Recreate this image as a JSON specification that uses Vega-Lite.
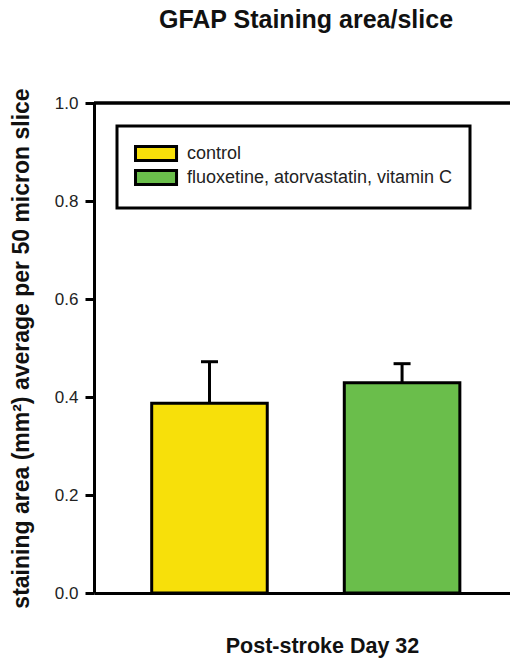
{
  "$schema": "https://vega.github.io/schema/vega-lite/v6.json",
  "width": 416,
  "height": 490,
  "autosize": {"type": "none"},
  "padding": {"left": 94, "top": 103, "right": 0, "bottom": 68},
  "title": {
    "text": "GFAP Staining area/slice",
    "fontSize": 25,
    "fontWeight": "bold",
    "color": "#111111",
    "anchor": "middle",
    "dx": 4,
    "offset": 55
  },
  "data": {
    "values": [
      {"group": "control", "mean": 0.387, "upper": 0.472},
      {"group": "fluoxetine, atorvastatin, vitamin C", "mean": 0.429, "upper": 0.468}
    ]
  },
  "layer": [
    {
      "mark": {"type": "bar", "stroke": "black", "strokeWidth": 3},
      "encoding": {
        "x": {
          "field": "group",
          "type": "nominal",
          "sort": null,
          "scale": {"paddingInner": 0.4, "paddingOuter": 0.28, "align": 0.535},
          "axis": {
            "labels": false,
            "ticks": false,
            "domainColor": "black",
            "domainWidth": 3,
            "title": "Post-stroke Day 32",
            "titleFontSize": 21.5,
            "titleFontWeight": "bold",
            "titleColor": "#111111",
            "titleX": 228,
            "titleY": 59,
            "titleAlign": "center",
            "titleBaseline": "alphabetic"
          }
        },
        "y": {
          "field": "mean",
          "type": "quantitative",
          "scale": {"domain": [0, 1], "nice": false},
          "axis": {
            "values": [0, 0.2, 0.4, 0.6, 0.8, 1.0],
            "format": ".1f",
            "grid": false,
            "title": "staining area (mm²) average per 50 micron slice",
            "titleFontSize": 23,
            "titleFontWeight": "bold",
            "titleColor": "#111111",
            "titlePadding": 21,
            "labelFontSize": 17,
            "labelColor": "#222222",
            "labelPadding": 7,
            "tickSize": 9,
            "tickWidth": 3,
            "tickColor": "black",
            "domainColor": "black",
            "domainWidth": 3
          }
        },
        "color": {
          "field": "group",
          "type": "nominal",
          "sort": null,
          "scale": {"range": ["#F7E00A", "#6ABE4B"]},
          "legend": {
            "orient": "none",
            "legendX": 23,
            "legendY": 23,
            "title": null,
            "symbolType": "M-1,-0.78H3.56V0.78H-1Z",
            "symbolSize": 324,
            "symbolStrokeColor": "black",
            "symbolStrokeWidth": 3,
            "labelFontSize": 18,
            "labelColor": "#222222",
            "labelOffset": 32,
            "labelLimit": 400,
            "padding": 17,
            "rowPadding": -13,
            "strokeColor": "black",
            "fillColor": "white",
            "encode": {"legend": {"update": {"strokeWidth": {"value": 3}}}}
          }
        }
      }
    },
    {
      "mark": {"type": "rule", "stroke": "black", "strokeWidth": 3},
      "encoding": {
        "x": {"field": "group", "type": "nominal", "sort": null},
        "y": {"field": "mean", "type": "quantitative"},
        "y2": {"field": "upper"}
      }
    },
    {
      "mark": {"type": "tick", "color": "black", "size": 17, "thickness": 3, "opacity": 1},
      "encoding": {
        "x": {"field": "group", "type": "nominal", "sort": null},
        "y": {"field": "upper", "type": "quantitative"}
      }
    },
    {
      "mark": {"type": "rule", "stroke": "black", "strokeWidth": 3},
      "encoding": {
        "y": {"datum": 1, "type": "quantitative"}
      }
    }
  ],
  "config": {
    "font": "Liberation Sans",
    "view": {"stroke": null},
    "background": "white"
  }
}
